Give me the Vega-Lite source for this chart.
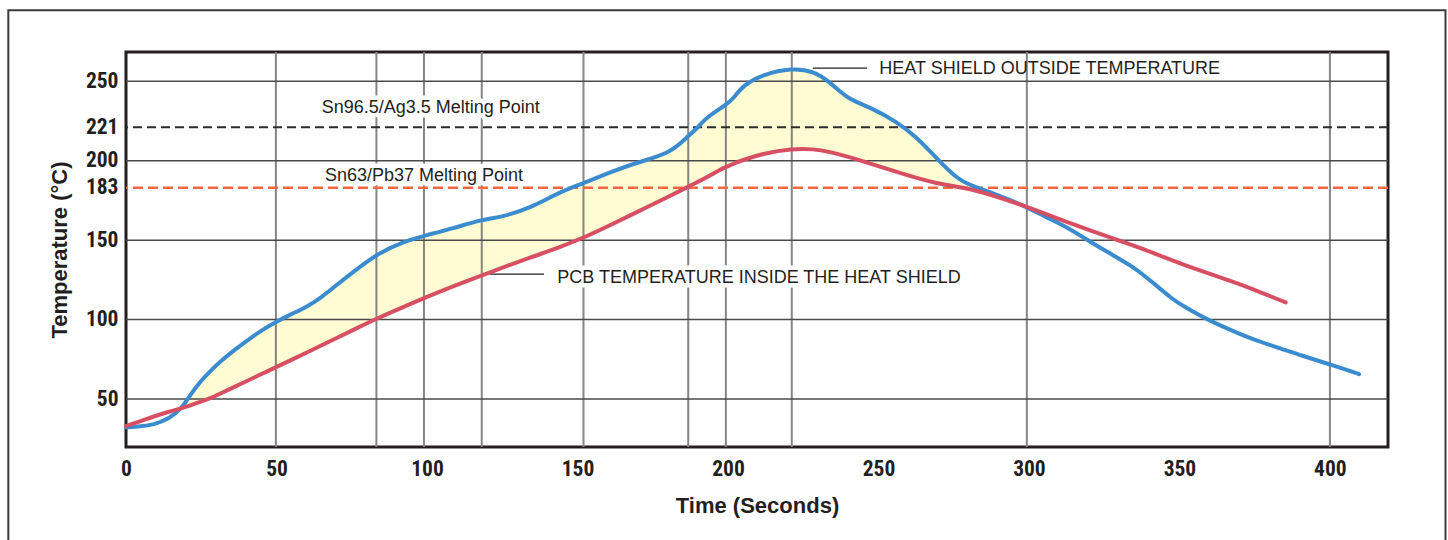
{
  "$schema": "https://vega.github.io/schema/vega-lite/v6.json",
  "width": 1262,
  "height": 395,
  "autosize": {"type": "none"},
  "padding": {"left": 126, "top": 52, "right": 60, "bottom": 93},
  "background": "white",
  "config": {
    "view": {"stroke": "#231f20", "strokeWidth": 3},
    "axis": {
      "grid": false,
      "ticks": false,
      "domain": false,
      "labelFont": "Liberation Sans Narrow, Roboto Condensed, DejaVu Sans Condensed, sans-serif",
      "labelFontSize": 21.5,
      "labelFontWeight": "bold",
      "labelColor": "#231f20",
      "labelFlush": false,
      "labelOverlap": false,
      "titleFont": "Liberation Sans, Arial, sans-serif",
      "titleFontSize": 22,
      "titleFontWeight": "bold",
      "titleColor": "#231f20"
    }
  },
  "datasets": {
    "curves": [
      {"t": 0, "outside": 32.2, "pcb": 33},
      {"t": 5, "outside": 32.8, "pcb": 36.2},
      {"t": 9, "outside": 33.6, "pcb": 38.9},
      {"t": 14.6, "outside": 37.9, "pcb": 42.2},
      {"t": 18.5, "outside": 44.1, "pcb": 44.2},
      {"t": 21.3, "outside": 52.5, "pcb": 45.9},
      {"t": 24.6, "outside": 60.9, "pcb": 48.1},
      {"t": 28, "outside": 67.5, "pcb": 50.5},
      {"t": 31.2, "outside": 73.5, "pcb": 53.3},
      {"t": 36.8, "outside": 82, "pcb": 58.3},
      {"t": 39, "outside": 85, "pcb": 60.3},
      {"t": 44, "outside": 92, "pcb": 64.8},
      {"t": 49.8, "outside": 98.6, "pcb": 70},
      {"t": 55, "outside": 103.5, "pcb": 74.6},
      {"t": 60, "outside": 108, "pcb": 79.2},
      {"t": 64.5, "outside": 113.3, "pcb": 83.4},
      {"t": 70, "outside": 121.8, "pcb": 88.4},
      {"t": 75.5, "outside": 130, "pcb": 93.5},
      {"t": 83.3, "outside": 141.2, "pcb": 100.7},
      {"t": 92, "outside": 149, "pcb": 107.8},
      {"t": 99, "outside": 152.7, "pcb": 113.5},
      {"t": 108.7, "outside": 157.4, "pcb": 121},
      {"t": 118.2, "outside": 163, "pcb": 127.8},
      {"t": 124.2, "outside": 164.2, "pcb": 132},
      {"t": 134.2, "outside": 170, "pcb": 139},
      {"t": 144.2, "outside": 180.4, "pcb": 145.6},
      {"t": 151.9, "outside": 185.7, "pcb": 151.4},
      {"t": 160, "outside": 192, "pcb": 158.6},
      {"t": 169.7, "outside": 198.9, "pcb": 167.6},
      {"t": 180.7, "outside": 204.5, "pcb": 177.8},
      {"t": 186.5, "outside": 215, "pcb": 183.3},
      {"t": 189.6, "outside": 220, "pcb": 186.3},
      {"t": 192.9, "outside": 227.5, "pcb": 189.5},
      {"t": 199.3, "outside": 235, "pcb": 196.3},
      {"t": 201.8, "outside": 239, "pcb": 198},
      {"t": 205, "outside": 247.5, "pcb": 200.5},
      {"t": 211.7, "outside": 254.3, "pcb": 204.5},
      {"t": 221.2, "outside": 258.3, "pcb": 207.6},
      {"t": 228.4, "outside": 256.4, "pcb": 207.4},
      {"t": 233.9, "outside": 249.6, "pcb": 205.5},
      {"t": 239.4, "outside": 239.1, "pcb": 202.8},
      {"t": 248.3, "outside": 232.8, "pcb": 197.5},
      {"t": 256, "outside": 224.4, "pcb": 193},
      {"t": 262.7, "outside": 215, "pcb": 189},
      {"t": 269.3, "outside": 201.4, "pcb": 185.8},
      {"t": 276, "outside": 188.8, "pcb": 183.6},
      {"t": 280.4, "outside": 184.6, "pcb": 182.3},
      {"t": 289.5, "outside": 178.5, "pcb": 177.3},
      {"t": 299.2, "outside": 171, "pcb": 171},
      {"t": 305, "outside": 165, "pcb": 166.9},
      {"t": 312.5, "outside": 158.4, "pcb": 161.5},
      {"t": 320.3, "outside": 149, "pcb": 156.2},
      {"t": 327, "outside": 141.5, "pcb": 151.7},
      {"t": 334.7, "outside": 133.2, "pcb": 146.6},
      {"t": 340.2, "outside": 124.8, "pcb": 142.7},
      {"t": 348, "outside": 112.3, "pcb": 137},
      {"t": 351.3, "outside": 108.5, "pcb": 134.6},
      {"t": 359, "outside": 100.1, "pcb": 129.4},
      {"t": 367.9, "outside": 92.7, "pcb": 123.7},
      {"t": 373.4, "outside": 88.2, "pcb": 119.9},
      {"t": 385.3, "outside": 80.7, "pcb": 110.8},
      {"t": 390, "outside": 77.7, "pcb": null},
      {"t": 400, "outside": 71.8, "pcb": null},
      {"t": 409.7, "outside": 65.7, "pcb": null}
    ],
    "vgrid": [
      {"t": 49.8}, {"t": 83.2}, {"t": 99}, {"t": 118.2}, {"t": 152},
      {"t": 186.8}, {"t": 199.3}, {"t": 221.2}, {"t": 299.3}, {"t": 400}
    ],
    "hgrid": [
      {"T": 50}, {"T": 100}, {"T": 150}, {"T": 200}, {"T": 250}
    ],
    "melting": [
      {"alloy": "Sn63/Pb37", "T": 183},
      {"alloy": "Sn96.5/Ag3.5", "T": 221}
    ],
    "labels": [
      {"t": 65.0, "T": 230, "label": "Sn96.5/Ag3.5 Melting Point"},
      {"t": 66.1, "T": 187.2, "label": "Sn63/Pb37 Melting Point"},
      {"t": 250.3, "T": 254.4, "label": "HEAT SHIELD OUTSIDE TEMPERATURE"},
      {"t": 143.3, "T": 122.8, "label": "PCB TEMPERATURE INSIDE THE HEAT SHIELD"}
    ],
    "leaders": [
      {"t": 120.9, "t2": 138.9, "T": 128.6},
      {"t": 228.2, "t2": 246.2, "T": 258.2}
    ]
  },
  "layer": [
    {
      "data": {"name": "curves"},
      "transform": [{"filter": "datum.t >= 18.5 && datum.t <= 299.2"}],
      "mark": {"type": "area", "interpolate": "basis", "color": "#fffbd3", "opacity": 1},
      "encoding": {
        "x": {
          "field": "t", "type": "quantitative", "title": "Time (Seconds)",
          "scale": {"domain": [0, 419.3], "nice": false, "zero": false},
          "axis": {"values": [0, 50, 100, 150, 200, 250, 300, 350, 400], "labelPadding": 11, "titlePadding": 16}
        },
        "y": {
          "field": "outside", "type": "quantitative", "title": "Temperature (°C)",
          "scale": {"domain": [19.8, 268.4], "nice": false, "zero": false},
          "axis": {"values": [50, 100, 150, 183, 200, 221, 250], "labelPadding": 8, "titlePadding": 14}
        },
        "y2": {"field": "pcb"}
      }
    },
    {
      "data": {"name": "vgrid"},
      "mark": {"type": "rule", "color": "#858585", "strokeWidth": 2},
      "encoding": {
        "x": {"field": "t", "type": "quantitative", "title": "Time (Seconds)"}
      }
    },
    {
      "data": {"name": "labels"},
      "transform": [{"filter": "datum.label != 'HEAT SHIELD OUTSIDE TEMPERATURE'"}],
      "mark": {"type": "text", "align": "left", "baseline": "alphabetic", "font": "Liberation Sans, Arial, sans-serif", "fontSize": 18, "fill": "white", "stroke": "white", "strokeWidth": 9, "strokeJoin": "round"},
      "encoding": {
        "x": {"field": "t", "type": "quantitative", "title": "Time (Seconds)"},
        "y": {"field": "T", "type": "quantitative", "title": "Temperature (°C)"},
        "text": {"field": "label"}
      }
    },
    {
      "data": {"name": "hgrid"},
      "mark": {"type": "rule", "color": "#4a4a4a", "strokeWidth": 1.5},
      "encoding": {
        "y": {"field": "T", "type": "quantitative", "title": "Temperature (°C)"}
      }
    },
    {
      "data": {"name": "melting"},
      "transform": [{"filter": "datum.alloy == 'Sn63/Pb37'"}],
      "mark": {"type": "rule", "color": "#f4663f", "strokeWidth": 2.4, "strokeDash": [10, 5]},
      "encoding": {
        "y": {"field": "T", "type": "quantitative", "title": "Temperature (°C)"}
      }
    },
    {
      "data": {"name": "melting"},
      "transform": [{"filter": "datum.alloy == 'Sn96.5/Ag3.5'"}],
      "mark": {"type": "rule", "color": "#2b2b2b", "strokeWidth": 2, "strokeDash": [9, 5]},
      "encoding": {
        "y": {"field": "T", "type": "quantitative", "title": "Temperature (°C)"}
      }
    },
    {
      "data": {"name": "labels"},
      "mark": {"type": "text", "align": "left", "baseline": "alphabetic", "font": "Liberation Sans, Arial, sans-serif", "fontSize": 18, "color": "#231f20"},
      "encoding": {
        "x": {"field": "t", "type": "quantitative", "title": "Time (Seconds)"},
        "y": {"field": "T", "type": "quantitative", "title": "Temperature (°C)"},
        "text": {"field": "label"}
      }
    },
    {
      "data": {"name": "leaders"},
      "mark": {"type": "rule", "color": "#231f20", "strokeWidth": 1.2},
      "encoding": {
        "x": {"field": "t", "type": "quantitative", "title": "Time (Seconds)"},
        "x2": {"field": "t2"},
        "y": {"field": "T", "type": "quantitative", "title": "Temperature (°C)"}
      }
    },
    {
      "data": {"name": "curves"},
      "mark": {"type": "line", "interpolate": "basis", "color": "#3a8ccf", "strokeWidth": 4, "strokeCap": "round"},
      "encoding": {
        "x": {"field": "t", "type": "quantitative", "title": "Time (Seconds)"},
        "y": {"field": "outside", "type": "quantitative", "title": "Temperature (°C)"}
      }
    },
    {
      "data": {"name": "curves"},
      "transform": [{"filter": "datum.pcb != null"}],
      "mark": {"type": "line", "interpolate": "basis", "color": "#d64f62", "strokeWidth": 4, "strokeCap": "round"},
      "encoding": {
        "x": {"field": "t", "type": "quantitative", "title": "Time (Seconds)"},
        "y": {"field": "pcb", "type": "quantitative", "title": "Temperature (°C)"}
      }
    },
    {
      "data": {"values": [{"frame": "outer"}]},
      "mark": {"type": "rect", "filled": false, "stroke": "#3a3a3a", "strokeWidth": 2, "clip": false},
      "encoding": {
        "x": {"datum": -39.1, "type": "quantitative"},
        "x2": {"datum": 438.4},
        "y": {"datum": 294.7, "type": "quantitative"},
        "y2": {"datum": -51.3}
      }
    }
  ]
}
